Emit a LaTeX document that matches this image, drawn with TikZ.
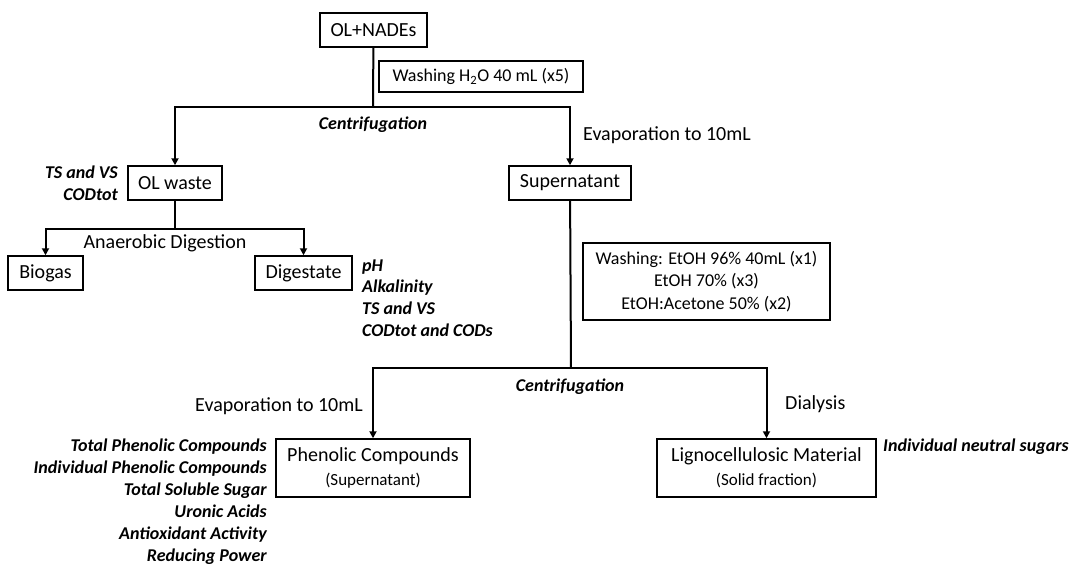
\documentclass[tikz,border=0pt]{standalone}
\usepackage{fontspec}
\setmainfont{Carlito}
\usetikzlibrary{arrows.meta}

\begin{document}
\begin{tikzpicture}[x=1pt, y=-1pt,
  every node/.style={font=\fontsize{20}{24}\selectfont},
  box/.style={draw, line width=1.5pt, minimum height=34pt, inner xsep=2pt, inner ysep=2pt, align=center},
  washbox/.style={box, font=\fontsize{18}{22.5}\selectfont},
  proc/.style={inner sep=0pt},
  opnote/.style={inner sep=0pt, font=\fontsize{18}{22}\selectfont\bfseries\itshape},
  meas/.style={inner sep=0pt, font=\fontsize{18}{22}\selectfont\bfseries\itshape},
  line/.style={line width=2pt},
  arr/.style={line width=2pt, -{Triangle[length=7pt,width=7pt]}}
]
  \useasboundingbox (0,0) rectangle (1069,566);

  % feed and first separation
  \node[box, minimum width=107pt] (feed) at (373.5,30) {OL+NADEs};
  \node[washbox, minimum width=204pt, minimum height=31pt] (wash1) at (481,76.5) {Washing H\textsubscript{2}O 40 mL (x5)};
  \coordinate (split1) at (373,107);
  \node[opnote] at (373,125) {Centrifugation};
  \node[box, minimum width=94pt] (waste) at (175,183) {OL waste};
  \node[box, minimum width=122pt] (super) at (570,183) {Supernatant};
  \node[proc, anchor=west] at (583,135) {Evaporation to 10mL};
  \node[meas, align=right, anchor=east] at (118,183.5) {TS and VS\\CODtot};

  % anaerobic digestion branch
  \coordinate (split2) at (175,229);
  \node[proc] at (165,243) {Anaerobic Digestion};
  \node[box, minimum width=75pt] (biogas) at (45.5,273) {Biogas};
  \node[box, minimum width=97pt] (dig) at (303.5,273) {Digestate};
  \node[meas, align=left, anchor=west, font=\fontsize{18}{21.7}\selectfont\bfseries\itshape] at (362,298) {pH\\Alkalinity\\TS and VS\\CODtot and CODs};

  % supernatant branch
  \node[washbox, minimum width=247pt, minimum height=77pt] (wash2) at (706.5,281.5) {Washing: EtOH 96\% 40mL (x1)\\EtOH 70\% (x3)\\EtOH:Acetone 50\% (x2)};
  \coordinate (split3) at (571,368);
  \node[opnote] at (570,387) {Centrifugation};
  \node[proc, anchor=east] at (363,406) {Evaporation to 10mL};
  \node[proc, anchor=west] at (785,404) {Dialysis};
  \node[box, minimum width=194pt, minimum height=58pt] (phen) at (373,468) {Phenolic Compounds\\{\fontsize{17}{20}\selectfont (Supernatant)}};
  \node[box, minimum width=219pt, minimum height=58pt] (ligno) at (766.5,468) {Lignocellulosic Material\\{\fontsize{17}{20}\selectfont (Solid fraction)}};
  \node[meas, align=right, anchor=east, font=\fontsize{18}{22}\selectfont\bfseries\itshape] at (267,501.5) {Total Phenolic Compounds\\Individual Phenolic Compounds\\Total Soluble Sugar\\Uronic Acids\\Antioxidant Activity\\Reducing Power};
  \node[meas, anchor=west] at (883,447) {Individual neutral sugars};

  % connectors
  \draw[line] (feed) -- (split1);
  \draw[arr] (split1) -| (waste);
  \draw[arr] (split1) -| (super);
  \draw[line] (waste) -- (split2);
  \draw[arr] (split2) -| (biogas);
  \draw[arr] (split2) -| (dig);
  \draw[line] (super) -- (split3);
  \draw[arr] (split3) -| (phen);
  \draw[arr] (split3) -| (ligno);
\end{tikzpicture}
\end{document}
